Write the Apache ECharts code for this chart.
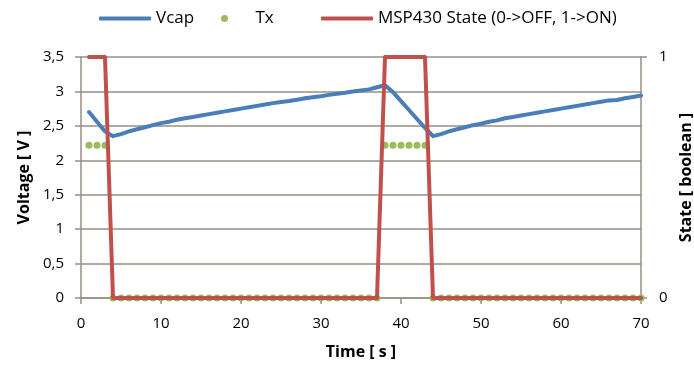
<!DOCTYPE html>
<html>
<head>
<meta charset="utf-8">
<script src="https://cdn.jsdelivr.net/npm/echarts@6/dist/echarts.min.js"></script>
<style>
  html, body { margin: 0; padding: 0; background: #fff; }
  #chart { width: 694px; height: 365px; }
</style>
</head>
<body>
<div id="chart"></div>
<script>
// Sample times in seconds
const timeSec = [
  1, 2, 3, 4, 5, 6, 7, 8, 9, 10,
  11, 12, 13, 14, 15, 16, 17, 18, 19, 20,
  21, 22, 23, 24, 25, 26, 27, 28, 29, 30,
  31, 32, 33, 34, 35, 36, 37, 38, 39, 40,
  41, 42, 43, 44, 45, 46, 47, 48, 49, 50,
  51, 52, 53, 54, 55, 56, 57, 58, 59, 60,
  61, 62, 63, 64, 65, 66, 67, 68, 69, 70
];

// Capacitor voltage [V]
const vcap = [
  2.70, 2.56, 2.42, 2.35, 2.38, 2.42, 2.45, 2.48, 2.51, 2.54,
  2.56, 2.59, 2.61, 2.63, 2.65, 2.67, 2.69, 2.71, 2.73, 2.75,
  2.77, 2.79, 2.81, 2.83, 2.845, 2.86, 2.88, 2.90, 2.915, 2.93,
  2.95, 2.965, 2.98, 3.00, 3.015, 3.03, 3.06, 3.09, 2.99, 2.86,
  2.73, 2.60, 2.47, 2.35, 2.38, 2.42, 2.45, 2.48, 2.51, 2.53,
  2.56, 2.58, 2.61, 2.63, 2.65, 2.67, 2.69, 2.71, 2.73, 2.75,
  2.77, 2.79, 2.81, 2.83, 2.85, 2.87, 2.875, 2.90, 2.92, 2.94
];

// Radio transmit marker [V]
const tx = [
  2.22, 2.22, 2.22, 0, 0, 0, 0, 0, 0, 0,
  0, 0, 0, 0, 0, 0, 0, 0, 0, 0,
  0, 0, 0, 0, 0, 0, 0, 0, 0, 0,
  0, 0, 0, 0, 0, 0, 0, 2.22, 2.22, 2.22,
  2.22, 2.22, 2.22, 0, 0, 0, 0, 0, 0, 0,
  0, 0, 0, 0, 0, 0, 0, 0, 0, 0,
  0, 0, 0, 0, 0, 0, 0, 0, 0, 0
];

// MSP430 on/off state
const mspState = [
  1, 1, 1, 0, 0, 0, 0, 0, 0, 0,
  0, 0, 0, 0, 0, 0, 0, 0, 0, 0,
  0, 0, 0, 0, 0, 0, 0, 0, 0, 0,
  0, 0, 0, 0, 0, 0, 0, 1, 1, 1,
  1, 1, 1, 0, 0, 0, 0, 0, 0, 0,
  0, 0, 0, 0, 0, 0, 0, 0, 0, 0,
  0, 0, 0, 0, 0, 0, 0, 0, 0, 0
];

const NAME_VCAP = 'Vcap';
const NAME_TX = 'Tx';
const NAME_MSP = 'MSP430 State (0->OFF, 1->ON)';

const FONT = 'Open Sans';
const AXIS_COLOR = '#998d82';

const pairs = (ys) => timeSec.map((t, i) => [t, ys[i]]);

const chart = echarts.init(document.getElementById('chart'), null, { renderer: 'canvas' });

const legendBase = {
  top: 10,
  padding: 0,
  itemWidth: 52,
  selectedMode: false,
  textStyle: { fontFamily: FONT, fontSize: 17, color: '#000' }
};

chart.setOption({
  animation: false,
  backgroundColor: '#fff',
  textStyle: { fontFamily: FONT },
  legend: [
    Object.assign({}, legendBase, { left: 99, itemHeight: 4, data: [{ name: NAME_VCAP, icon: 'roundRect' }] }),
    Object.assign({}, legendBase, { left: 221, itemHeight: 7, data: [{ name: NAME_TX, icon: 'circle' }] }),
    Object.assign({}, legendBase, { left: 321, itemHeight: 4, data: [{ name: NAME_MSP, icon: 'roundRect' }] })
  ],
  grid: { left: 81, right: 53, top: 57, bottom: 67, containLabel: false, outerBoundsMode: 'none' },
  xAxis: {
    type: 'value',
    min: 0, max: 70, interval: 10,
    name: 'Time [ s ]',
    nameLocation: 'middle',
    nameGap: 46,
    nameTextStyle: { fontFamily: FONT, fontSize: 16, fontWeight: 'bold', color: '#000' },
    axisLine: { show: true, lineStyle: { color: AXIS_COLOR, width: 1.5 } },
    axisTick: { show: true, inside: false, length: 6, lineStyle: { color: AXIS_COLOR, width: 1.5 } },
    axisLabel: { margin: 18, fontFamily: FONT, fontSize: 15, color: '#000' },
    splitLine: { show: false }
  },
  yAxis: [
    {
      type: 'value',
      min: 0, max: 3.5, interval: 0.5,
      position: 'left',
      name: 'Voltage [ V ]',
      nameLocation: 'middle',
      nameRotate: 90,
      nameGap: 48,
      nameTextStyle: { fontFamily: FONT, fontSize: 16, fontWeight: 'bold', color: '#000' },
      axisLine: { show: true, lineStyle: { color: AXIS_COLOR, width: 1.5 } },
      axisTick: { show: true, inside: false, length: 6, lineStyle: { color: AXIS_COLOR, width: 1.5 } },
      axisLabel: {
        margin: 17, fontFamily: FONT, fontSize: 15, color: '#000',
        formatter: (v) => String(v).replace('.', ',')
      },
      splitLine: { show: true, lineStyle: { color: AXIS_COLOR, width: 1.5 } }
    },
    {
      type: 'value',
      min: 0, max: 1, interval: 1,
      position: 'right',
      name: 'State [ boolean ]',
      nameLocation: 'middle',
      nameRotate: 90,
      nameGap: 34,
      nameTextStyle: { fontFamily: FONT, fontSize: 16, fontWeight: 'bold', color: '#000' },
      axisLine: { show: true, lineStyle: { color: AXIS_COLOR, width: 1.5 } },
      axisTick: { show: true, inside: false, length: 6, lineStyle: { color: AXIS_COLOR, width: 1.5 } },
      axisLabel: { margin: 18, fontFamily: FONT, fontSize: 15, color: '#000' },
      splitLine: { show: false }
    }
  ],
  series: [
    {
      name: NAME_VCAP,
      type: 'line',
      yAxisIndex: 0,
      data: pairs(vcap),
      symbol: 'none',
      clip: false,
      color: '#4a7ebb',
      lineStyle: { width: 4, color: '#4a7ebb', join: 'round', cap: 'round' }
    },
    {
      name: NAME_TX,
      type: 'scatter',
      yAxisIndex: 0,
      data: pairs(tx),
      symbol: 'circle',
      symbolSize: 7,
      clip: false,
      color: '#9bbb59',
      itemStyle: { color: '#9bbb59', opacity: 1 }
    },
    {
      name: NAME_MSP,
      type: 'line',
      yAxisIndex: 1,
      data: pairs(mspState),
      symbol: 'none',
      clip: false,
      color: '#c0504d',
      lineStyle: { width: 4, color: '#c0504d', join: 'round', cap: 'round' }
    }
  ]
});
</script>
</body>
</html>
